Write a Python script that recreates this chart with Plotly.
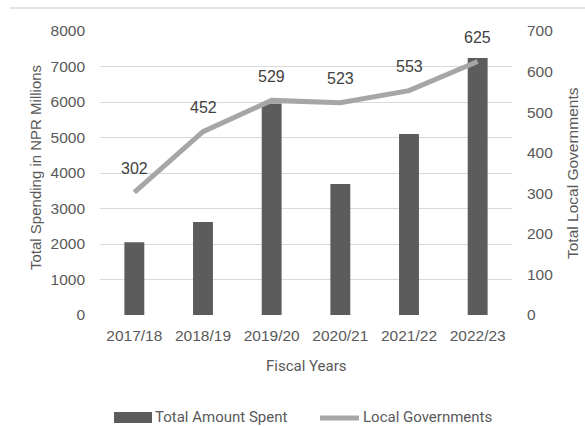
import plotly.graph_objects as go

years = ["2017/18", "2018/19", "2019/20", "2020/21", "2021/22", "2022/23"]
spending = [2050, 2620, 5960, 3690, 5100, 7240]
local_govs = [302, 452, 529, 523, 553, 625]

tick_font = "Liberation Sans"
label_font = "Roboto"
grey_text = "#595959"

# plot area in pixels: x 100..512, y 31..315
def px(x):
    return (x - 100) / 412.0

def py(y):
    return (315 - y) / 284.0

fig = go.Figure()
fig.add_trace(go.Bar(
    x=years, y=spending, name="Total Amount Spent",
    marker=dict(color="#5c5c5c", line=dict(width=0)),
    width=0.29, yaxis="y",
))
fig.add_trace(go.Scatter(
    x=years, y=local_govs, name="Local Governments",
    mode="lines",
    line=dict(color="#a6a6a6", width=5),
    yaxis="y2", cliponaxis=False,
))

annotations = []
for yr, v in zip(years, local_govs):
    annotations.append(dict(
        x=yr, y=v, xref="x", yref="y2", text=str(v), showarrow=False,
        yshift=24, font=dict(size=16, color="#404040", family=tick_font),
    ))

def lab(x, y, text, family, angle=0, xanchor="center", size=15):
    return dict(x=px(x), y=py(y), xref="paper", yref="paper", text=text,
                textangle=angle, showarrow=False, xanchor=xanchor, yanchor="middle",
                font=dict(size=size, color=grey_text, family=family))

annotations += [
    lab(306, 366, "Fiscal Years", label_font),
    lab(35, 168, "Total Spending in NPR Millions", tick_font, angle=-90),
    lab(572, 173, "Total Local Governments", tick_font, angle=-90, size=15.5),
    lab(153, 417, "Total Amount Spent", label_font, xanchor="left"),
    lab(361, 417, "Local Governments", label_font, xanchor="left"),
]

shapes = [
    dict(type="line", xref="paper", yref="paper", x0=px(10), x1=px(585), y0=py(8), y1=py(8),
         line=dict(color="#d9d9d9", width=1.5)),
    dict(type="rect", xref="paper", yref="paper", x0=px(114), x1=px(152), y0=py(423), y1=py(412),
         fillcolor="#5c5c5c", line=dict(width=0)),
    dict(type="line", xref="paper", yref="paper", x0=px(320), x1=px(359), y0=py(418), y1=py(418),
         line=dict(color="#a6a6a6", width=5)),
]

fig.update_layout(
    width=585, height=427,
    margin=dict(l=100, r=73, t=31, b=112, autoexpand=False),
    paper_bgcolor="white", plot_bgcolor="white",
    font=dict(family=tick_font, size=15, color=grey_text),
    showlegend=False,
    xaxis=dict(
        showgrid=False, showline=False, ticks="", automargin=False,
        tickfont=dict(size=15.5, color=grey_text, family=tick_font),
        ticklabelstandoff=9,
    ),
    yaxis=dict(
        range=[0, 8000], dtick=1000, showgrid=True, gridcolor="#d9d9d9", gridwidth=1,
        zeroline=False, showline=False, ticks="", automargin=False,
        tickfont=dict(size=15.5, color=grey_text, family=tick_font),
        ticklabelstandoff=14,
    ),
    yaxis2=dict(
        range=[0, 700], dtick=100, overlaying="y", side="right",
        showgrid=False, zeroline=False, showline=False, automargin=False,
        tickfont=dict(size=15.5, color=grey_text, family=tick_font),
        ticklabelstandoff=14,
    ),
    annotations=annotations,
    shapes=shapes,
)

fig.write_html("out.html")
